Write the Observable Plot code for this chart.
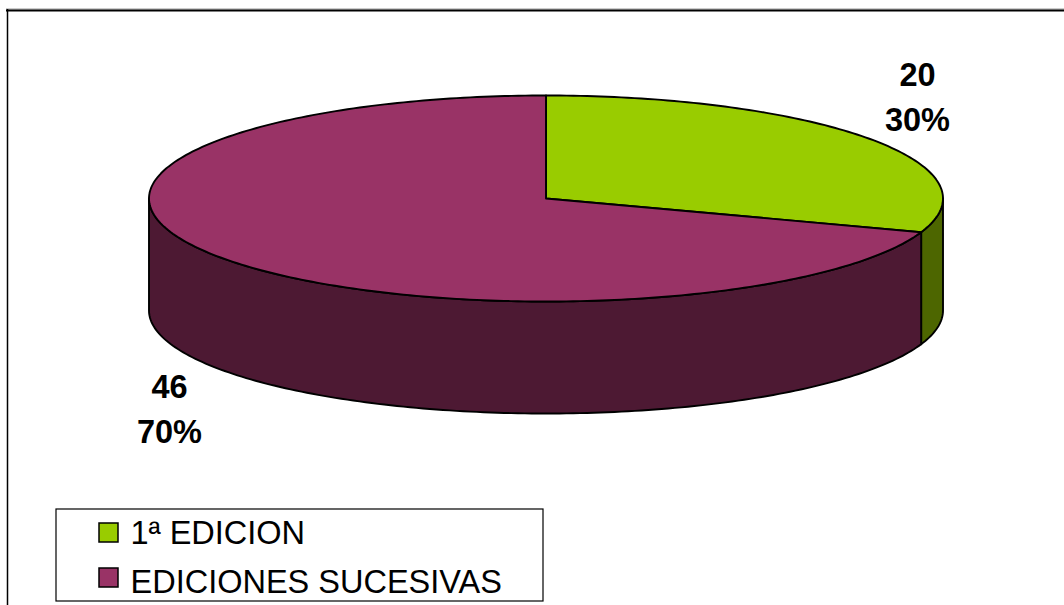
<!DOCTYPE html>
<html>
<head>
<meta charset="utf-8">
<script src="https://cdn.jsdelivr.net/npm/d3@7"></script>
<script src="https://cdn.jsdelivr.net/npm/@observablehq/plot@0.6"></script>
<style>
  html, body { margin: 0; padding: 0; background: #fff; }
  #chart svg { display: block; background: #fff; }
</style>
</head>
<body>
<div id="chart"></div>
<script>
// ---- data ----
const categories = ["1ª EDICION", "EDICIONES SUCESIVAS"];
const values = [20, 46];
const topColors = ["#99CC00", "#993366"];
const sideColors = ["#4D6600", "#4D1933"];

// ---- layout ----
const W = 1064, H = 605;
const cx = 545.5, cy = 198, rx = 397, ry = 103, depth = 112;
const labelFont = 32.5, legendFont = 32.5;
// label anchor (center x, baseline of first line) per slice
const labelPos = [[917, 85], [169, 397]];
const labelLineGap = 45;

const total = d3.sum(values);
const pct = values.map(v => Math.round(v / total * 100));

const rad = a => a * Math.PI / 180;
const pt = (a, dy = 0) => ({x: cx + rx * Math.cos(rad(a)), y: cy - ry * Math.sin(rad(a)) + dy});
function arc(a0, a1, dy = 0) {
  const n = Math.max(2, Math.ceil(Math.abs(a1 - a0)));
  return d3.range(n + 1).map(i => pt(a0 + (a1 - a0) * i / n, dy));
}

// slice angles (clockwise from 12 o'clock)
let cum = 0;
const slices = values.map((v, i) => {
  const a0 = 90 - 360 * cum / total;
  cum += v;
  const a1 = 90 - 360 * cum / total;
  return {i, a0, a1};
});

// side walls: visible part is angles in [-180, 0]
const sides = [];
for (const s of slices) {
  for (const k of [0, -360, 360]) {
    const hi = Math.min(s.a0 + k, 0), lo = Math.max(s.a1 + k, -180);
    if (hi > lo) {
      const top = arc(hi, lo);
      const bottom = arc(lo, hi, depth);
      const pts = [...top, ...bottom, top[0]];
      sides.push({fill: sideColors[s.i], pts});
    }
  }
}
const tops = slices.map(s => {
  const c = {x: cx, y: cy};
  return {fill: topColors[s.i], pts: [c, ...arc(s.a0, s.a1), c]};
});

const polyMarks = [...sides, ...tops].map(p =>
  Plot.line(p.pts, {x: "x", y: "y", fill: p.fill, stroke: "#000", strokeWidth: 1.9, strokeLinejoin: "round"})
);

const labels = values.map((v, i) => ({
  x: labelPos[i][0], y1: labelPos[i][1] - 0.32 * labelFont, y2: labelPos[i][1] + labelLineGap - 0.32 * labelFont,
  a: String(v), b: pct[i] + "%"
}));

// legend
const legend = categories.map((c, i) => ({
  name: c, color: topColors[i],
  sy: [523, 568][i], ty: [543, 592][i] - 0.32 * legendFont
}));

const chart = Plot.plot({
  width: W, height: H,
  marginTop: 0, marginRight: 0, marginBottom: 0, marginLeft: 0,
  x: {domain: [0, W], range: [0, W], axis: null},
  y: {domain: [0, H], range: [0, H], axis: null},
  style: {fontFamily: "'Liberation Sans', Arial, sans-serif", background: "#fff"},
  marks: [
    // outer frame
    Plot.ruleY([8.5], {x1: 6, x2: W, stroke: "#999", strokeWidth: 1}),
    Plot.ruleY([10], {x1: 6, x2: W, stroke: "#000", strokeWidth: 2}),
    Plot.ruleX([7], {y1: 9, y2: H, stroke: "#000", strokeWidth: 1.5}),
    ...polyMarks,
    Plot.text(labels, {x: "x", y: "y1", text: "a", fontSize: labelFont, fontWeight: "bold", fill: "#000", textAnchor: "middle"}),
    Plot.text(labels, {x: "x", y: "y2", text: "b", fontSize: labelFont, fontWeight: "bold", fill: "#000", textAnchor: "middle"}),
    // legend box
    Plot.rect([0], {x1: 56, x2: 543, y1: 509, y2: 601, fill: "#fff", stroke: "#000", strokeWidth: 1.2}),
    Plot.rect(legend, {x1: 99, x2: 118, y1: "sy", y2: d => d.sy + 19, fill: "color", stroke: "#000", strokeWidth: 1.5}),
    Plot.text(legend, {x: 130, y: "ty", text: "name", fontSize: legendFont, fill: "#000", textAnchor: "start"})
  ],
  color: {type: "identity"}
});
document.getElementById("chart").append(chart);
</script>
</body>
</html>
